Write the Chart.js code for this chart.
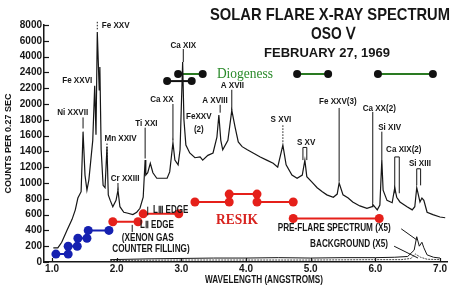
<!DOCTYPE html>
<html>
<head>
<meta charset="utf-8">
<script src="https://cdn.jsdelivr.net/npm/chart.js@4.4.0/dist/chart.umd.min.js"></script>
<style>
  html, body { margin: 0; padding: 0; background: #fff; }
</style>
</head>
<body>
<canvas id="chart" width="456" height="290"></canvas>
<script>
// spectrum (wavelength in angstroms, counts per 0.27 s)
const specWavelength = [1.02,1.09,1.15,1.23,1.31,1.36,1.40,1.45,1.48,1.51,
  1.54,1.57,1.60,1.63,1.66,1.68,1.70,1.73,1.74,1.76,
  1.79,1.82,1.85,1.87,1.90,1.94,1.99,2.02,2.05,2.11,
  2.16,2.25,2.31,2.36,2.41,2.44,2.45,2.48,2.52,2.56,
  2.62,2.67,2.73,2.78,2.82,2.87,2.90,2.95,2.98,3.02,
  3.04,3.07,3.13,3.21,3.29,3.33,3.41,3.49,3.55,3.58,
  3.61,3.64,3.72,3.78,3.83,3.88,3.94,4.02,4.11,4.22,
  4.32,4.42,4.49,4.57,4.62,4.71,4.79,4.87,4.91,4.94,
  5.02,5.10,5.18,5.25,5.35,5.41,5.44,5.50,5.58,5.65,
  5.76,5.87,5.95,5.96,6.03,6.07,6.10,6.12,6.18,6.26,
  6.30,6.33,6.38,6.49,6.57,6.61,6.64,6.69,6.72,6.75,
  6.80,6.89,7.00,7.08];
const specCounts = [180,180,250,400,540,660,810,890,1650,1100,
  910,1040,1290,1540,2230,1610,7100,2180,2950,1420,
  970,940,1460,850,780,700,780,910,700,630,
  620,600,630,680,820,1290,1100,1130,1250,1130,
  1060,1060,1060,1060,1140,1510,1290,1230,1420,3450,
  1800,1480,1380,1320,1330,1290,1350,1380,1580,1860,
  1540,1420,1540,1920,1710,1520,1460,1420,1380,1330,
  1290,1250,1200,1480,1230,1100,1060,1100,1290,1080,
  1010,940,890,850,820,860,1000,850,810,760,
  710,680,700,730,660,720,1290,910,780,750,
  940,820,760,700,660,700,940,760,810,780,
  630,600,570,560];

// pre-flare and background spectra (x5)
const preWavelength = [1.9,2.5,3.0,3.5,4.0,4.5,5.0,5.5,6.0,6.3,6.5,6.6,6.64,6.68,6.72,6.75,6.8,6.9,7.0];
const preCounts = [30,40,45,50,50,55,50,55,55,60,70,150,320,200,250,180,90,60,50];
const bgWavelength = [1.9,3.0,4.0,5.0,6.0,6.4,6.55,6.62,6.7,6.8,7.0];
const bgCounts = [20,25,25,25,30,30,45,100,60,35,30];

// spectrometer channel ranges
const blueStart = [1.06,1.25,1.40,1.56];
const blueEnd = [1.25,1.39,1.54,1.88];
const blueLevel = [100,200,300,400];
const resikStart = [1.94,2.41,3.21,3.74,4.17,4.73];
const resikEnd = [2.33,2.96,3.74,4.17,4.73,6.06];
const resikLevel = [510,610,760,860,760,550];
const diogStart = [2.95,4.79,6.04];
const diogEnd = [3.33,5.27,6.89];
const diogLevel = [2380,2380,2380];
const diogBlackStart = [2.78];
const diogBlackEnd = [3.16];
const diogBlackLevel = [2290];

// axes
const xTicks = [1,2,3,4,5,6,7];
const yTickLabels = ['0','200','400','600','800','1000','1200','1400','1600','1800','2000','2200','2400','4000','6000','8000'];
const yBreakCounts = [0,2400,4000,6000,8000];
const yBreakUnits = [0,12,13,14,15];

// line identifications: text, wavelength, counts
const lineLabels = [
  ['Ni XXVII',1.32,1890],['Fe XXVI',1.39,2300],['Mn XXIV',2.06,1570],['Cr XXIII',2.13,1060],
  ['Ti XXI',2.46,1760],['Ca XX',2.70,2060],['Ca XIX',3.03,5460],['FeXXV',3.27,1840],['(2)',3.27,1680],
  ['A XVIII',3.52,2050],['A XVII',3.79,2240],['S XVI',4.54,1800],['S XV',4.93,1520],
  ['Fe XXV(3)',5.42,2030],['Ca XX(2)',6.06,1950],['Si XIV',6.22,1700],['Ca XIX(2)',6.44,1420],['Si XIII',6.69,1250]
];
const leaderLines = [
  [1.70,8400,7300,true],[1.48,1830,1690],[1.85,1500,1300,true],[2.02,1000,910],[2.44,1700,1310],
  [2.87,2000,1540],[3.03,4960,3450],[3.60,1990,1890],[3.78,2180,1920],[4.57,1730,1520,true],
  [5.44,1950,1020],[5.96,1900,740],[6.10,1650,1290],[2.48,700,590],[2.24,470,380]
];
const bracketLeaders = [[4.88,4.94,1450,1290],[6.30,6.37,1330,870],[6.64,6.70,1180,970]];

function toUnit(v) {
  if (v === null) return null;
  let i = 1;
  while (i < yBreakCounts.length - 1 && v > yBreakCounts[i]) i++;
  const c0 = yBreakCounts[i - 1], c1 = yBreakCounts[i];
  const u0 = yBreakUnits[i - 1], u1 = yBreakUnits[i];
  return u0 + (v - c0) * (u1 - u0) / (c1 - c0);
}

function series(xs, ys) {
  return xs.map((x, i) => ({ x: x, y: toUnit(ys[i]) }));
}

function segments(starts, ends, levels) {
  const pts = [];
  starts.forEach((s, i) => {
    pts.push({ x: s, y: toUnit(levels[i]) });
    pts.push({ x: ends[i], y: toUnit(levels[i]) });
    pts.push({ x: ends[i], y: null });
  });
  return pts;
}

const SANS = '"Liberation Sans", Arial, sans-serif';
const SERIF = '"Liberation Serif", "DejaVu Serif", serif';
const INK = '#161616';

// draw text squeezed horizontally, like the condensed type of the original
function squeezed(ctx, text, x, y, squeeze) {
  const w = ctx.measureText(text).width;
  ctx.fillText(text, x, y, w * squeeze);
}

const annotate = {
  id: 'annotate',
  afterDatasetsDraw(chart) {
    const { ctx, chartArea, scales: { x, y } } = chart;
    const px = l => x.getPixelForValue(l);
    const py = c => y.getPixelForValue(toUnit(c));
    ctx.save();
    ctx.strokeStyle = INK;
    ctx.fillStyle = INK;

    // inward tick marks
    ctx.lineWidth = 1.2;
    yTickLabels.forEach((t, i) => {
      const yy = Math.round(y.getPixelForValue(i)) + 0.5;
      ctx.beginPath(); ctx.moveTo(chartArea.left, yy); ctx.lineTo(chartArea.left + 5, yy); ctx.stroke();
    });
    xTicks.forEach(v => {
      const xx = Math.round(px(v)) + 0.5;
      ctx.beginPath(); ctx.moveTo(xx, chartArea.bottom); ctx.lineTo(xx, chartArea.bottom - 4); ctx.stroke();
    });

    // leaders
    ctx.lineWidth = 1;
    leaderLines.forEach(([l, c1, c2, dotted]) => {
      ctx.setLineDash(dotted ? [1.5, 1.5] : []);
      ctx.beginPath(); ctx.moveTo(px(l), py(c1)); ctx.lineTo(px(l), py(c2)); ctx.stroke();
    });
    ctx.setLineDash([]);
    bracketLeaders.forEach(([l1, l2, c1, c2]) => {
      ctx.beginPath();
      ctx.moveTo(px(l1), py(c2)); ctx.lineTo(px(l1), py(c1));
      ctx.lineTo(px(l2), py(c1)); ctx.lineTo(px(l2), py(c2));
      ctx.stroke();
    });
    ctx.beginPath(); ctx.moveTo(px(6.40), py(420)); ctx.lineTo(px(6.64), py(280)); ctx.stroke();
    ctx.beginPath(); ctx.moveTo(px(6.29), py(200)); ctx.lineTo(px(6.66), py(50)); ctx.stroke();

    // line labels
    ctx.textBaseline = 'middle';
    ctx.textAlign = 'center';
    ctx.font = 'bold 9.5px ' + SANS;
    lineLabels.forEach(([t, l, c]) => squeezed(ctx, t, px(l), py(c), 0.85));
    ctx.textAlign = 'left';
    squeezed(ctx, 'Fe XXV', px(1.77), py(8000), 0.85);

    // edge notes
    ctx.font = 'bold 10px ' + SANS;
    squeezed(ctx, 'L\u2162 EDGE', px(2.56), py(660), 0.8);
    squeezed(ctx, 'L\u2161 EDGE', px(2.36), py(460), 0.8);
    ctx.textAlign = 'center';
    squeezed(ctx, '(XENON GAS', px(2.48), py(300), 0.82);
    squeezed(ctx, 'COUNTER FILLING)', px(2.53), py(160), 0.82);
    ctx.textAlign = 'left';
    squeezed(ctx, 'PRE-FLARE SPECTRUM (X5)', px(4.49), py(430), 0.82);
    squeezed(ctx, 'BACKGROUND (X5)', px(4.99), py(220), 0.82);

    // instrument names
    ctx.fillStyle = '#2a8a2a';
    ctx.font = '15px ' + SERIF;
    ctx.fillText('Diogeness', px(3.55), py(2380), 56);
    ctx.fillStyle = '#d8231f';
    ctx.textAlign = 'center';
    ctx.font = 'bold 14px ' + SERIF;
    ctx.fillText('RESIK', px(3.86), py(530), 42);

    // titles
    ctx.fillStyle = INK;
    ctx.font = 'bold 17px ' + SANS;
    ctx.fillText('SOLAR FLARE X-RAY SPECTRUM', 330, 15, 240);
    ctx.font = 'bold 16px ' + SANS;
    ctx.fillText('OSO \u2164', 333, 35, 44);
    ctx.font = 'bold 13px ' + SANS;
    ctx.fillText('FEBRUARY 27, 1969', 327, 53, 130);
    ctx.font = 'bold 10px ' + SANS;
    ctx.fillText('WAVELENGTH (ANGSTROMS)', 264, 280, 118);
    ctx.restore();
  }
};

new Chart(document.getElementById('chart'), {
  type: 'line',
  data: {
    datasets: [
      { data: series(specWavelength, specCounts), borderColor: INK, borderWidth: 1.2, pointRadius: 0 },
      { data: series(preWavelength, preCounts), borderColor: INK, borderWidth: 1, pointRadius: 0 },
      { data: series(bgWavelength, bgCounts), borderColor: INK, borderWidth: 0.8, borderDash: [2, 1], pointRadius: 0 },
      { data: segments(blueStart, blueEnd, blueLevel), borderColor: '#1520b0', backgroundColor: '#1520b0',
        borderWidth: 2, pointRadius: 4.5, pointBorderWidth: 0, spanGaps: false },
      { data: segments(resikStart, resikEnd, resikLevel), borderColor: '#e5201a', backgroundColor: '#e5201a',
        borderWidth: 2, pointRadius: 4.5, pointBorderWidth: 0, spanGaps: false },
      { data: segments(diogStart, diogEnd, diogLevel), borderColor: '#2a7a22', backgroundColor: '#111',
        borderWidth: 2, pointRadius: 4, pointBorderWidth: 0, spanGaps: false },
      { data: segments(diogBlackStart, diogBlackEnd, diogBlackLevel), borderColor: '#111', backgroundColor: '#111',
        borderWidth: 2, pointRadius: 4, pointBorderWidth: 0, spanGaps: false }
    ]
  },
  options: {
    responsive: false,
    animation: false,
    clip: false,
    layout: { padding: { left: 0, top: 25, right: 9, bottom: 0 } },
    elements: { line: { tension: 0 } },
    plugins: { legend: { display: false }, tooltip: { enabled: false } },
    scales: {
      x: {
        type: 'linear',
        min: 0.876,
        max: 7.108,
        afterBuildTicks: scale => { scale.ticks = xTicks.map(v => ({ value: v })); },
        afterFit: scale => { scale.height = 28; },
        grid: { display: false, drawTicks: false },
        border: { display: true, color: INK, width: 1.5 },
        ticks: {
          color: INK, padding: 1, maxRotation: 0,
          font: { family: SANS, size: 10, weight: 'bold' },
          callback: v => v.toFixed(1)
        }
      },
      y: {
        type: 'linear',
        min: 0,
        max: 15,
        afterBuildTicks: scale => { scale.ticks = yTickLabels.map((t, i) => ({ value: i })); },
        afterFit: scale => { scale.width = 44; },
        grid: { display: false, drawTicks: false },
        border: { display: true, color: INK, width: 1.5 },
        ticks: {
          color: INK, padding: 2,
          font: { family: SANS, size: 10, weight: 'bold' },
          callback: (v, i) => yTickLabels[i]
        },
        title: {
          display: true, text: 'COUNTS PER 0.27 SEC', color: INK,
          padding: { top: 3, bottom: 0 },
          font: { family: SANS, size: 9, weight: 'bold' }
        }
      }
    }
  },
  plugins: [annotate]
});
</script>
</body>
</html>
